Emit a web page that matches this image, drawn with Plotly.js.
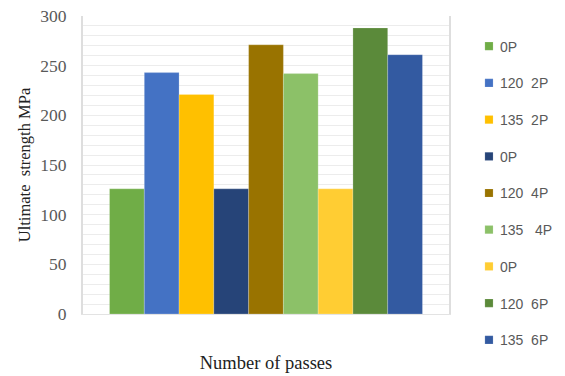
<!DOCTYPE html>
<html>
<head>
<meta charset="utf-8">
<script src="https://cdn.plot.ly/plotly-3.0.1.min.js"></script>
<style>
  html, body { margin: 0; padding: 0; background: #fff; }
  #chart { width: 565px; height: 376px; }
</style>
</head>
<body>
<div id="chart"></div>
<script>
// Ultimate strength for each processing condition (one bar per series)
const seriesNames = ['0P', '120 \u00a02P', '135 \u00a02P', '0P', '120 \u00a04P', '135 \u00a0\u00a04P', '0P', '120 \u00a06P', '135 \u00a06P'];
const strengthMPa = [126, 243, 221, 126, 271, 242, 126, 288, 261];
const groupLabel = [''];

// Fill colours, in series order
const barColors = ['#70AD47', '#4472C4', '#FFC000', '#264478', '#997300', '#8CC168', '#FFCD33', '#5B8A3A', '#335AA1'];

const serif = 'Liberation Serif, Times New Roman, serif';

const traces = seriesNames.map((name, i) => ({
  type: 'bar',
  name: name,
  x: groupLabel,
  y: [strengthMPa[i]],
  legendgroup: 'g' + i,
  marker: { color: barColors[i], line: { color: 'rgba(255,255,255,0.35)', width: 0.6 } },
  hoverinfo: 'name+y'
}));

const layout = {
  width: 565,
  height: 376,
  margin: { l: 83, r: 116, t: 16, b: 62, autoexpand: false },
  paper_bgcolor: '#ffffff',
  plot_bgcolor: '#ffffff',
  barmode: 'group',
  bargap: 0.145,
  bargroupgap: 0,
  showlegend: true,
  legend: {
    x: 1.03, xanchor: 'left',
    y: 0.951, yanchor: 'top',
    traceorder: 'grouped',
    tracegroupgap: 15.5,
    maxheight: 376,
    font: { family: 'Liberation Sans, Arial, sans-serif', size: 14, color: '#595959' },
    itemwidth: 30
  },
  xaxis: {
    type: 'category',
    showticklabels: false,
    showgrid: false,
    zeroline: false,
    showline: true,
    linecolor: '#e3e3e3',
    linewidth: 1,
    automargin: false,
    title: {
      text: 'Number of passes',
      font: { family: serif, size: 18.5, color: '#222' },
      standoff: 42
    }
  },
  yaxis: {
    range: [0, 300],
    dtick: 50,
    tick0: 0,
    showgrid: true,
    gridcolor: '#ececec',
    gridwidth: 1,
    minor: { dtick: 10, showgrid: true, gridcolor: '#ececec', gridwidth: 1 },
    zeroline: false,
    showline: true,
    mirror: true,
    linecolor: '#dedede',
    linewidth: 2,
    ticks: '',
    ticklabelstandoff: 11,
    automargin: false,
    tickfont: { family: serif, size: 17.5, color: '#595959' },
    title: {
      text: 'Ultimate \u00a0strength MPa',
      font: { family: serif, size: 16.5, color: '#222' },
      standoff: 5
    }
  }
};

Plotly.newPlot('chart', traces, layout, { displayModeBar: false, staticPlot: true }).then(() => {
  // smaller square legend swatches, sitting closer to their labels
  document.querySelectorAll('#chart .legendpoints path').forEach(p => {
    p.setAttribute('transform', 'translate(29,0) scale(0.68)');
  });
});
</script>
</body>
</html>
